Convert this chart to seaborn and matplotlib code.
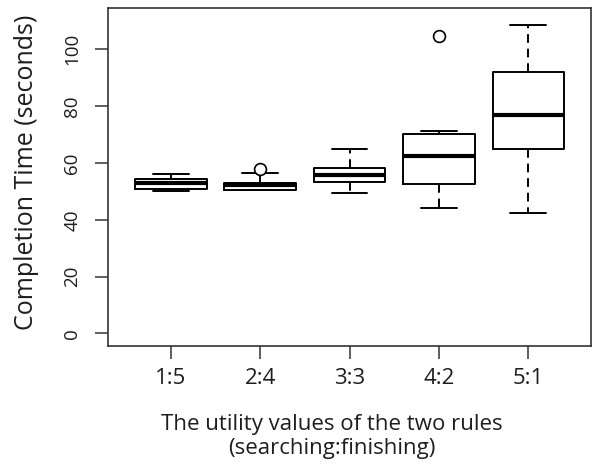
import matplotlib
matplotlib.use("Agg")
import matplotlib.pyplot as plt
import pandas as pd
import seaborn as sns

# five-number summaries (seconds)
ratios = ["1:5", "2:4", "3:3", "4:2", "5:1"]
whisker_low = [50.0, 50.3, 49.4, 44.2, 42.5]
q1 = [50.9, 50.4, 53.4, 52.5, 64.8]
median = [52.8, 52.1, 55.7, 62.3, 76.9]
q3 = [54.5, 53.0, 58.1, 70.1, 92.1]
whisker_high = [56.0, 56.4, 64.9, 71.1, 108.6]
outliers = [[], [58.0], [], [104.7], []]

y_ticks = [0, 20, 40, 60, 80, 100]

# long table whose quartiles / whiskers reproduce the summaries above
rows = []
for i, r in enumerate(ratios):
    vals = [whisker_low[i], q1[i], q1[i], median[i], median[i], q3[i], q3[i], whisker_high[i]]
    vals += outliers[i]
    rows += [{"ratio": r, "time": v} for v in vals]
df = pd.DataFrame(rows)

sns.set_theme(style="white")
plt.rcParams["font.family"] = ["Open Sans", "DejaVu Sans"]
text_color = "#1e1e1e"

fig = plt.figure(figsize=(5.92, 4.68), dpi=100)
ax = fig.add_axes([0.183, 0.2607, 0.815, 0.7216])

sns.boxplot(
    data=df, x="ratio", y="time", order=ratios, ax=ax,
    fill=False, color="black", width=0.8, linewidth=1.4, whis=1.5,
    medianprops={"linewidth": 3.0, "color": "black"},
    whiskerprops={"linestyle": (0, (4.5, 3)), "color": "black"},
    capprops={"color": "black"},
    flierprops={"marker": "o", "markersize": 8.5, "markerfacecolor": "white",
                "markeredgecolor": "black", "markeredgewidth": 1.2},
)

ax.set_xlim(-0.7, 4.7)
ax.set_ylim(-4.4, 114.4)
ax.set_yticks(y_ticks)
ax.set_yticklabels([str(t) for t in y_ticks], rotation=90, va="center", fontsize=13.5)

for side in ["left", "right", "top", "bottom"]:
    ax.spines[side].set_visible(True)
    ax.spines[side].set_color("#333333")
    ax.spines[side].set_linewidth(1.2)

ax.tick_params(axis="both", direction="out", length=9.5, width=1.1, color="#333333",
               labelcolor=text_color, left=True, bottom=True)
ax.tick_params(axis="y", pad=10)
ax.tick_params(axis="x", pad=6.5, labelsize=16)

ax.set_ylabel("Completion Time (seconds)", fontsize=18, color=text_color)
ax.set_xlabel("The utility values of the two rules\n(searching:finishing)",
              fontsize=16, color=text_color, linespacing=1.22)
ax.yaxis.set_label_coords(-0.144, 0.515)
ax.xaxis.set_label_coords(0.463, -0.2)

fig.savefig("out.png", dpi=100)
